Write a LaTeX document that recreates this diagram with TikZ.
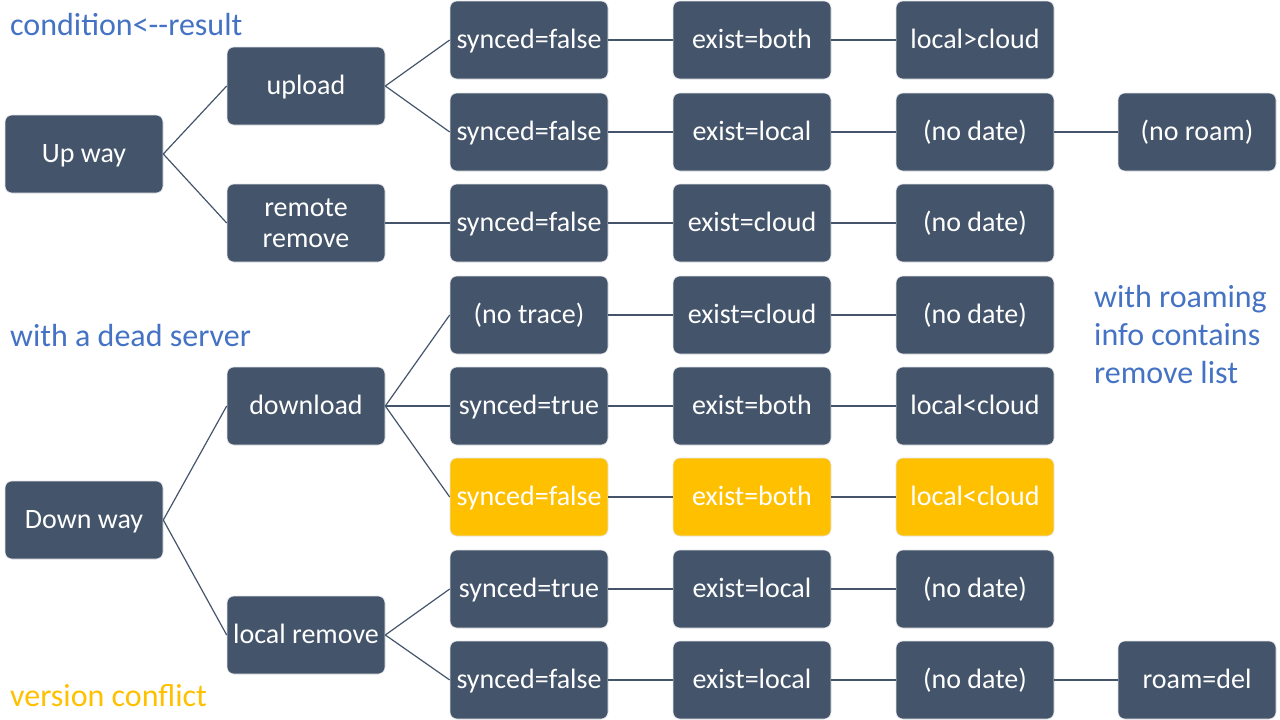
\documentclass[tikz,border=0pt]{standalone}
\usepackage{fontspec}
\setmainfont{Carlito}
\definecolor{slate}{HTML}{44546A}
\definecolor{gold}{HTML}{FFC000}
\definecolor{note}{HTML}{4472C4}
\begin{document}
\begin{tikzpicture}[x=1pt,y=-1pt,
  boxbase/.style={draw=white!85!slate,line width=0.6pt,fill=slate,rounded corners=7pt,minimum width=158pt,minimum height=78pt,inner sep=0pt,text=white,align=center,font=\fontsize{28}{31}\selectfont},
  box/.style={boxbase,text height=21pt,text depth=4pt},
  hot/.style={box,fill=gold},
  link/.style={draw=slate,line width=1.2pt},
  lbl/.style={anchor=base west,inner sep=0pt,font=\fontsize{32}{38}\selectfont,align=left}]
\useasboundingbox (0,0) rectangle (1280,720);
% column centres: 84, 306, 529, 752, 975, 1197
\node[box] (up) at (84,154) {Up way};
\node[box] (down) at (84,520) {Down way};
\node[box] (upload) at (306,86) {upload};
\node[boxbase] (rrem) at (306,223) {remote\\remove};
\node[box] (dl) at (306,406) {download};
\node[box] (lrem) at (306,635) {local remove};
% rows
\node[box] (a2) at (529,40) {synced=false};
\node[box] (a3) at (752,40) {exist=both};
\node[box] (a4) at (975,40) {local>cloud};
\node[box] (b2) at (529,132) {synced=false};
\node[box] (b3) at (752,132) {exist=local};
\node[box] (b4) at (975,132) {(no date)};
\node[box] (b5) at (1197,132) {(no roam)};
\node[box] (c2) at (529,223) {synced=false};
\node[box] (c3) at (752,223) {exist=cloud};
\node[box] (c4) at (975,223) {(no date)};
\node[box] (d2) at (529,315) {(no trace)};
\node[box] (d3) at (752,315) {exist=cloud};
\node[box] (d4) at (975,315) {(no date)};
\node[box] (e2) at (529,406) {synced=true};
\node[box] (e3) at (752,406) {exist=both};
\node[box] (e4) at (975,406) {local<cloud};
\node[hot] (f2) at (529,497) {synced=false};
\node[hot] (f3) at (752,497) {exist=both};
\node[hot] (f4) at (975,497) {local<cloud};
\node[box] (g2) at (529,589) {synced=true};
\node[box] (g3) at (752,589) {exist=local};
\node[box] (g4) at (975,589) {(no date)};
\node[box] (h2) at (529,680) {synced=false};
\node[box] (h3) at (752,680) {exist=local};
\node[box] (h4) at (975,680) {(no date)};
\node[box] (h5) at (1197,680) {roam=del};
% connectors
\draw[link] (up.east) -- (upload.west);
\draw[link] (up.east) -- (rrem.west);
\draw[link] (down.east) -- (dl.west);
\draw[link] (down.east) -- (lrem.west);
\draw[link] (upload.east) -- (a2.west);
\draw[link] (upload.east) -- (b2.west);
\draw[link] (rrem.east) -- (c2.west);
\draw[link] (dl.east) -- (d2.west);
\draw[link] (dl.east) -- (e2.west);
\draw[link] (dl.east) -- (f2.west);
\draw[link] (lrem.east) -- (g2.west);
\draw[link] (lrem.east) -- (h2.west);
\draw[link] (a2) -- (a3); \draw[link] (a3) -- (a4);
\draw[link] (b2) -- (b3); \draw[link] (b3) -- (b4); \draw[link] (b4) -- (b5);
\draw[link] (c2) -- (c3); \draw[link] (c3) -- (c4);
\draw[link] (d2) -- (d3); \draw[link] (d3) -- (d4);
\draw[link] (e2) -- (e3); \draw[link] (e3) -- (e4);
\draw[link] (f2) -- (f3); \draw[link] (f3) -- (f4);
\draw[link] (g2) -- (g3); \draw[link] (g3) -- (g4);
\draw[link] (h2) -- (h3); \draw[link] (h3) -- (h4); \draw[link] (h4) -- (h5);
% notes
\node[lbl,text=note] (n1) at (10,35) {condition<-{}-result};
\node[lbl,text=note] (n2) at (10,346) {with a dead server};
\node[lbl,text=gold] (n3) at (10,706) {version conflict};
\node[lbl,text=note] (n4) at (1094,307) {with roaming};
\node[lbl,text=note] (n5) at (1094,345) {info contains};
\node[lbl,text=note] (n6) at (1094,383) {remove list};
\end{tikzpicture}
\end{document}
